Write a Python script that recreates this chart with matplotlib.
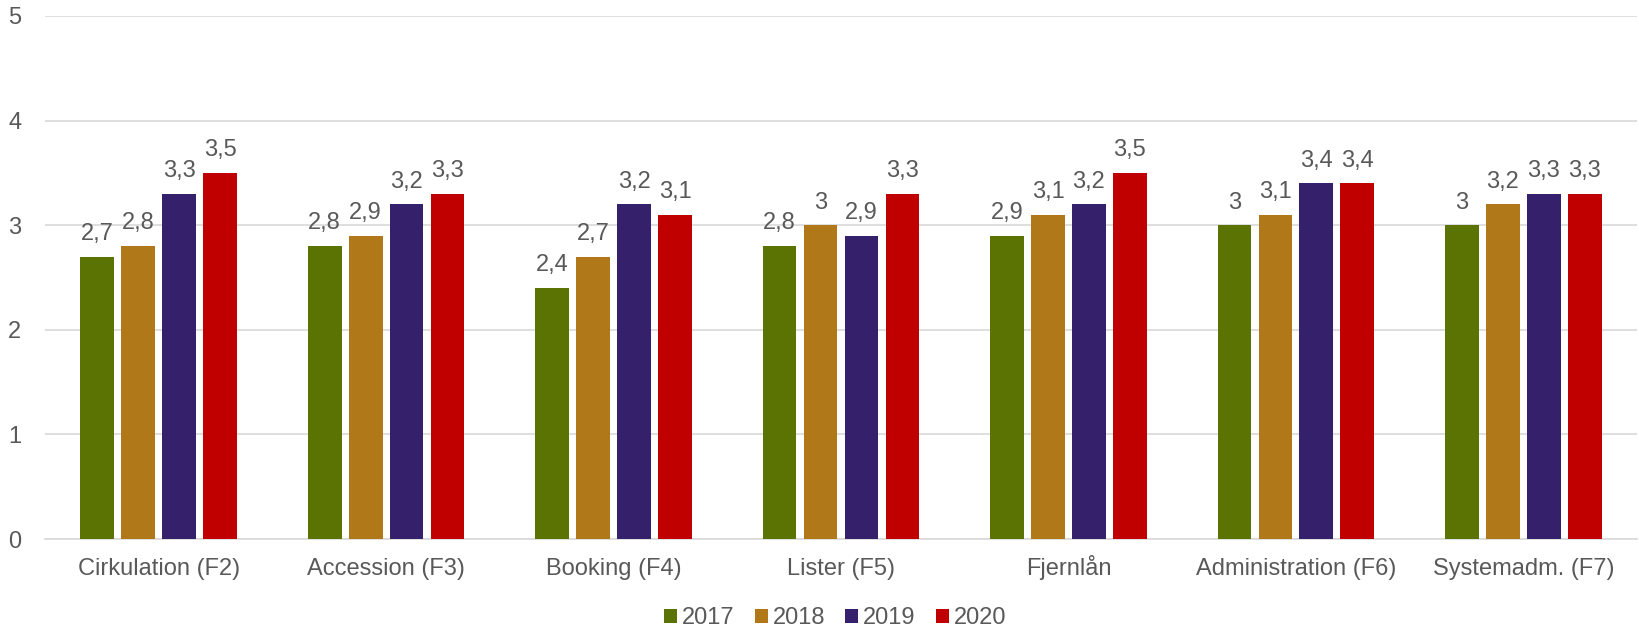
import matplotlib
matplotlib.use("Agg")
import matplotlib.pyplot as plt
import numpy as np

plt.rcParams['font.family'] = ['Liberation Sans', 'DejaVu Sans']

categories = ["Cirkulation (F2)", "Accession (F3)", "Booking (F4)", "Lister (F5)",
              "Fjernlån", "Administration (F6)", "Systemadm. (F7)"]
years = ["2017", "2018", "2019", "2020"]
v2017 = [2.7, 2.8, 2.4, 2.8, 2.9, 3.0, 3.0]
v2018 = [2.8, 2.9, 2.7, 3.0, 3.1, 3.1, 3.2]
v2019 = [3.3, 3.2, 3.2, 2.9, 3.2, 3.4, 3.3]
v2020 = [3.5, 3.3, 3.1, 3.3, 3.5, 3.4, 3.3]
series = [v2017, v2018, v2019, v2020]
colors = ["#5A7302", "#B07818", "#35216B", "#C00000"]
text_color = "#595959"
fs = 17

fig = plt.figure(figsize=(16.4, 6.31), dpi=100)
ax = fig.add_axes([45/1640, 1 - 539/631, (1637-45)/1640, (539-16)/631])

x = np.arange(len(categories))
step = 0.18
width = 0.148
for i, (vals, c, yr) in enumerate(zip(series, colors, years)):
    pos = x + (i - 1.5) * step
    ax.bar(pos, vals, width=width, color=c, label=yr, zorder=3)
    for p, v in zip(pos, vals):
        lab = ("%g" % v).replace(".", ",")
        ax.annotate(lab, (p, v), xytext=(0, 12), textcoords="offset points",
                    ha="center", va="baseline", fontsize=fs, color=text_color)

ax.set_xlim(-0.5, len(categories) - 0.5)
ax.set_ylim(0, 5)
ax.set_yticks([0, 1, 2, 3, 4, 5])
ax.set_yticklabels(["0", "1", "2", "3", "4", "5"])
ax.set_xticks(x)
ax.set_xticklabels(categories, va="baseline")
ax.tick_params(axis="both", length=0, labelsize=fs, labelcolor=text_color)
ax.tick_params(axis="y", pad=17)
ax.tick_params(axis="x", pad=26)
ax.grid(axis="y", color="#D9D9D9", linewidth=1.2, zorder=0)
for s in ["top", "right", "left"]:
    ax.spines[s].set_visible(False)
ax.spines["bottom"].set_color("#D9D9D9")
ax.spines["bottom"].set_linewidth(1.2)

leg = fig.legend(loc="center", bbox_to_anchor=(0.5 + 15/1640, 1 - 618/631), ncol=4,
                 frameon=False, fontsize=fs, handlelength=0.55, handleheight=0.55,
                 handletextpad=0.21, columnspacing=0.85)
for t in leg.get_texts():
    t.set_color(text_color)

fig.savefig("out.png", dpi=100)
